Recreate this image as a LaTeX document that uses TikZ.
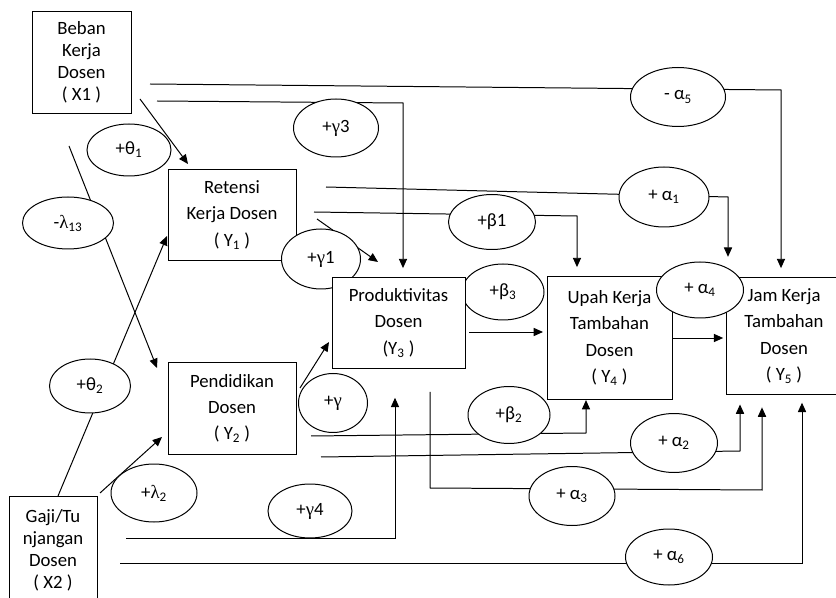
\documentclass[tikz,border=0pt]{standalone}
\usepackage{fontspec}
\setmainfont{Carlito}
\newfontfamily\grkfont{Liberation Serif}
\usepackage{tikz}
\usetikzlibrary{shapes,arrows.meta,positioning,calc,backgrounds}

\newcommand{\boxtxt}{\fontsize{16}{22.5}\selectfont}
\newcommand{\xtxt}{\fontsize{16}{18.7}\selectfont}
\newcommand{\gam}{{\grkfont γ}}
\newcommand{\lam}{{\grkfont λ}}

\tikzset{
    var/.style 2 args={draw, fill=white, align=center, inner sep=0pt,
        minimum width=#1cm, minimum height=#2cm, font=\boxtxt},
    coef/.style 2 args={ellipse, draw, fill=white, inner sep=0pt,
        minimum width=#1cm, minimum height=#2cm, font=\boxtxt},
}

\begin{document}
\begin{tikzpicture}[x=0.03cm, y=-0.03cm, line width=0.85pt,
    >={Triangle[length=8pt,width=7pt]}]
    \useasboundingbox (0,0) rectangle (836,598);
    \clip (0,0) rectangle (836,598);

    % Exogenous variables and first level
    \node[var={2.97}{3.03}, font=\xtxt] (x1) at (81.5,62.5) {Beban\\Kerja\\Dosen\\( X1 )};
    \node[var={2.64}{3.24}, font=\xtxt] (x2) at (53,550) {Gaji/Tu\\njangan\\Dosen\\( X2 )};
    \node[var={3.84}{2.7}] (y1) at (232,215) {Retensi\\Kerja Dosen\\( Y\textsubscript{1} )};
    \node[var={3.84}{2.73}] (y2) at (232,408.5) {Pendidikan\\Dosen\\( Y\textsubscript{2} )};

    % Path coefficients
    \node[coef={2.52}{1.56}] (t1) at (129,150) {+θ\textsubscript{1}};
    \node[coef={2.55}{1.74}] (g3) at (336,128) {+\gam3};
    \node[coef={2.85}{1.77}] (a5) at (678,97) {- α\textsubscript{5}};
    \node[coef={2.7}{1.8}] (a1) at (664,197) {+ α\textsubscript{1}};
    \node[coef={2.61}{1.65}] (b1) at (492,222) {+β1};
    \node[coef={2.73}{1.56}] (l13) at (68,223) {-\lam\textsubscript{13}};
    \node[coef={2.37}{1.8}] (g1) at (321,259) {+\gam1};
    \node[coef={2.43}{1.62}] (t2) at (90,386) {+θ\textsubscript{2}};
    \node[coef={2.07}{1.77}] (g0) at (333,403) {+\gam};
    \node[coef={2.46}{1.68}] (b3) at (503,292) {+β\textsubscript{3}};
    \node[coef={2.46}{1.71}] (b2) at (509,415) {+β\textsubscript{2}};
    \node[coef={2.61}{1.77}] (a2) at (674,443) {+ α\textsubscript{2}};
    \node[coef={2.58}{1.74}] (l2) at (154,493) {+\lam\textsubscript{2}};
    \node[coef={2.52}{1.62}] (g4) at (310,511) {+\gam4};
    \node[coef={2.58}{1.77}] (a3) at (572,496) {+ α\textsubscript{3}};
    \node[coef={2.61}{1.68}] (a6) at (669,557) {+ α\textsubscript{6}};

    % Second level
    \node[var={3.99}{2.7}] (y3) at (398.5,323) {Produktivitas\\Dosen\\(Y\textsubscript{3} )};
    \node[var={3.75}{3.66}] (y4) at (609.5,338) {Upah Kerja\\Tambahan\\Dosen\\( Y\textsubscript{4} )};
    \node[var={3.48}{3.48}] (y5) at (784,336) {Jam Kerja\\Tambahan\\Dosen\\( Y\textsubscript{5} )};
    \node[coef={2.61}{1.68}] (a4) at (700,290) {+ α\textsubscript{4}};

    % Line ends and bends
    \coordinate (p1) at (140,99);   \coordinate (q1) at (188,164);
    \coordinate (p2) at (150,84);   \coordinate (k2) at (781,90);
    \coordinate (p3) at (157,101);  \coordinate (k3) at (403,103);
    \coordinate (p4) at (69,146);   \coordinate (q4) at (157,368);
    \coordinate (p5) at (58,496);   \coordinate (q5) at (167,236);
    \coordinate (p6) at (100,493);  \coordinate (q6) at (162,437);
    \coordinate (p7) at (317,219);  \coordinate (q7) at (378,262);
    \coordinate (p8) at (314,212);  \coordinate (k8) at (577,216);
    \coordinate (p9) at (326,187);  \coordinate (k9) at (728,197);
    \coordinate (p10) at (300,388); \coordinate (q10) at (329,342);
    \coordinate (p11) at (469,332);
    \coordinate (p13) at (126,538); \coordinate (k13) at (395,538);
    \coordinate (p14) at (120,563); \coordinate (k14) at (802,563);
    \coordinate (p15) at (311,436); \coordinate (k15) at (586,433);
    \coordinate (p16) at (321,457); \coordinate (k16) at (740,451);
    \coordinate (p17) at (430,392); \coordinate (k17) at (430,488);
    \coordinate (m17) at (762,490);

    % Connectors
    \begin{pgfonlayer}{background}
    \begin{scope}[line width=0.85pt]
        \draw[->] (p1) -- (q1);
        \draw[->, shorten >=8pt] (p2) -- (k2) -- (k2 |- y5.north);
        \draw[->, shorten >=8pt] (p3) -- (k3) -- (k3 |- y3.north);
        \draw[->] (p4) -- (q4);
        \draw[->] (p5) -- (q5);
        \draw[->] (p6) -- (q6);
        \draw[->] (p7) -- (q7);
        \draw[->, shorten >=8pt] (p8) -- (k8) -- (k8 |- y4.north);
        \draw[->, shorten >=4pt] (p9) -- (k9) -- (k9 |- a4.north);
        \draw[->] (p10) -- (q10);
        \draw[->, shorten >=3pt] (p11) -- (p11 -| y4.west);
        \draw[->, shorten >=2pt] (y4.east) -- (y4.east -| y5.west);
        \draw[->, shorten >=25pt] (p13) -- (k13) -- (k13 |- y3.south);
        \draw[->, shorten >=7pt] (p14) -- (k14) -- (k14 |- y5.south);
        \draw[->, shorten >=0.5pt] (p15) -- (k15) -- (k15 |- y4.south);
        \draw[->, shorten >=8.5pt] (p16) -- (k16) -- (k16 |- y5.south);
        \draw[->, shorten >=11pt] (p17) -- (k17) -- (m17) -- (m17 |- y5.south);
    \end{scope}
    \end{pgfonlayer}
\end{tikzpicture}
\end{document}
